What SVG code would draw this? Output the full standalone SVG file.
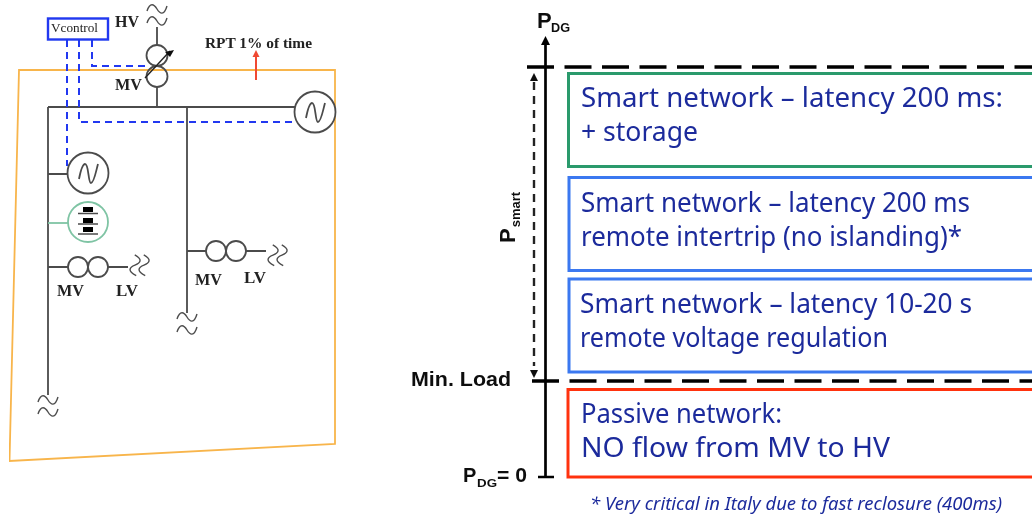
<svg xmlns="http://www.w3.org/2000/svg" width="1032" height="517" viewBox="0 0 1032 517">
<style>
.w{fill:none;stroke:#4c4c4c;stroke-width:1.8}
.sq{fill:none;stroke:#4c4c4c;stroke-width:1.4}
.d{fill:none;stroke:#2038f0;stroke-width:2;stroke-dasharray:7 5}
.s{font-family:"Liberation Serif",serif;font-weight:bold;fill:#222;font-size:16px}
.a{font-family:"Liberation Sans",sans-serif;font-weight:bold;fill:#111}
.t{font-family:"Noto Sans",sans-serif;fill:#1c2c9c;font-size:27.500px}
.b{fill:none;stroke-width:3}
.k{fill:none;stroke:#000;stroke-width:2.700}
.kd{fill:none;stroke:#000;stroke-width:3.400;stroke-dasharray:27 10.500}
</style>
<defs>
<path id="sw" d="M-10,1 C-7,-8 -3,-6 0,-1 C3,4 7,6 10,-4"/>
<path id="wave" d="M306,118C308,108 310,103 312,103C316,103 315,122 318,122C321,122 323,110 325,103"/>
<filter id="soft" x="0" y="0" width="100%" height="100%"><feGaussianBlur stdDeviation="0.4"/></filter>
</defs>
<rect width="1032" height="517" fill="#fff"/>
<g filter="url(#soft)">
<g id="boundary"><path d="M19,70 L335,70 L335,444 L9.500,461 Z" fill="none" stroke="#f8b54c" stroke-width="1.800"/></g>
<g id="connectors">
<path class="w" d="M157,27V45M157,87V107M48,107H296M48,107V395M187,107V313M48,174H68M48,267H68M108,267H128M187,251H206M246,251H266"/>
<path d="M48,223H68" fill="none" stroke="#7fc4a4" stroke-width="1.800"/>
<path class="d" d="M67,40V166M79,40V122H296M92,40V66H148"/>
<path d="M256,80V56" stroke="#f04a30" stroke-width="2" fill="none"/><path d="M256,50L252.500,57H259.500Z" fill="#f04a30"/>
</g>
<g id="hv-squiggle" class="sq"><use href="#sw" x="157" y="10"/><use href="#sw" x="157" y="22"/></g>
<g id="vcontrol"><rect x="48" y="18.500" width="60" height="21" fill="#fff" stroke="#2038f0" stroke-width="2.400"/><text x="51" y="32" font-family="Liberation Serif,serif" font-size="13" fill="#222" textLength="47" lengthAdjust="spacingAndGlyphs">Vcontrol</text></g>
<g id="hv-label"><text class="s" x="115" y="27" textLength="24" lengthAdjust="spacingAndGlyphs">HV</text></g>
<g id="mv-label"><text class="s" x="115" y="90" textLength="27" lengthAdjust="spacingAndGlyphs">MV</text></g>
<g id="rpt"><text x="205" y="48" font-family="Liberation Serif,serif" font-weight="bold" font-size="15" fill="#222" textLength="107" lengthAdjust="spacingAndGlyphs">RPT 1% of time</text></g>
<g id="main-transformer"><circle class="w" cx="157" cy="55.500" r="10.500"/><circle class="w" cx="157" cy="76.500" r="10.500"/><path d="M145,78L170,51" stroke="#222" stroke-width="1.400" fill="none"/><path d="M174,50L165,52L170,57Z" fill="#111"/></g>
<g id="gen-right"><circle cx="315" cy="112" r="20.500" fill="#fff" stroke="#4c4c4c" stroke-width="1.800"/><use href="#wave" class="w"/></g>
<g id="gen-left"><circle cx="88" cy="173" r="20.500" fill="#fff" stroke="#4c4c4c" stroke-width="1.800"/><use href="#wave" class="w" x="-227" y="61"/></g>
<g id="storage"><circle cx="88" cy="222" r="20" fill="#fff" stroke="#7fc4a4" stroke-width="1.800"/><path d="M83,207h10v5h-10zM83,218h10v5h-10zM83,227h10v5h-10z" fill="#000"/><path d="M78,213.500h20M78,224h20M78,234h20" stroke="#4c4c4c" stroke-width="1.400"/></g>
<g id="tx-left"><circle class="w" cx="78" cy="267" r="10"/><circle class="w" cx="98" cy="267" r="10"/><g class="sq"><use href="#sw" transform="translate(134,265) rotate(100)"/><use href="#sw" transform="translate(143,265) rotate(100)"/></g><text class="s" x="57" y="296" textLength="27" lengthAdjust="spacingAndGlyphs">MV</text><text class="s" x="116" y="296" textLength="22" lengthAdjust="spacingAndGlyphs">LV</text></g>
<g id="tx-mid"><circle class="w" cx="216" cy="251" r="10"/><circle class="w" cx="236" cy="251" r="10"/><g class="sq"><use href="#sw" transform="translate(272,255) rotate(100)"/><use href="#sw" transform="translate(281,255) rotate(100)"/></g><text class="s" x="195" y="285" textLength="27" lengthAdjust="spacingAndGlyphs">MV</text><text class="s" x="244" y="283" textLength="22" lengthAdjust="spacingAndGlyphs">LV</text></g>
<g id="end-left" class="sq"><use href="#sw" x="48" y="401"/><use href="#sw" x="48" y="413"/></g>
<g id="end-mid" class="sq"><use href="#sw" x="187" y="318"/><use href="#sw" x="187" y="331"/></g>
<g id="axis"><path class="k" d="M545.500,44V477M538,477H554"/><path d="M545.500,36L541,45H550Z"/>
<path class="kd" d="M527,67H1032M532,381H1032"/>
<path d="M534,82V366" fill="none" stroke="#222" stroke-width="2.400" stroke-dasharray="8 6"/><path d="M534,73L530,81H538ZM534,378L530,370H538Z" fill="#111"/></g>
<g id="axis-labels">
<text class="a" x="537" y="28" font-size="22">P</text><text class="a" x="551" y="32" font-size="12" textLength="19" lengthAdjust="spacingAndGlyphs">DG</text>
<text class="a" transform="translate(515,243) rotate(-90)" font-size="22">P<tspan font-size="13" dy="5" dx="1">smart</tspan></text>
<text class="a" x="411" y="386" font-size="21" textLength="100" lengthAdjust="spacingAndGlyphs">Min. Load</text>
<text class="a" x="463" y="482" font-size="20">P</text><text class="a" x="477" y="487" font-size="11.500" textLength="20" lengthAdjust="spacingAndGlyphs">DG</text><text class="a" x="497" y="482" font-size="20" textLength="30" lengthAdjust="spacingAndGlyphs">= 0</text>
</g>
<g id="box-storage"><rect class="b" x="568.500" y="73.500" width="480" height="93" stroke="#2a9a6c"/><text class="t" x="581" y="107" textLength="422" lengthAdjust="spacingAndGlyphs">Smart network – latency 200 ms:</text><text class="t" x="581" y="141" textLength="117" lengthAdjust="spacingAndGlyphs">+ storage</text></g>
<g id="box-intertrip"><rect class="b" x="569" y="177.500" width="480" height="93" stroke="#3a78f0"/><text class="t" x="581" y="212" textLength="389" lengthAdjust="spacingAndGlyphs">Smart network – latency 200 ms</text><text class="t" x="581" y="246" textLength="381" lengthAdjust="spacingAndGlyphs">remote intertrip (no islanding)*</text></g>
<g id="box-voltage"><rect class="b" x="569" y="279" width="480" height="93" stroke="#3a78f0"/><text class="t" x="580" y="313" textLength="392" lengthAdjust="spacingAndGlyphs">Smart network – latency 10-20 s</text><text class="t" x="580" y="347" textLength="308" lengthAdjust="spacingAndGlyphs">remote voltage regulation</text></g>
<g id="box-passive"><rect class="b" x="568" y="389.500" width="480" height="87.500" stroke="#ff3010"/><text class="t" x="581" y="423" textLength="201" lengthAdjust="spacingAndGlyphs">Passive network:</text><text class="t" x="581" y="457" textLength="309" lengthAdjust="spacingAndGlyphs">NO flow from MV to HV</text></g>
<g id="note"><text x="590" y="510" font-family="Noto Sans,sans-serif" font-style="italic" font-size="18" fill="#1c2c9c" textLength="412" lengthAdjust="spacingAndGlyphs">* Very critical in Italy due to fast reclosure (400ms)</text></g>
</g>
</svg>
